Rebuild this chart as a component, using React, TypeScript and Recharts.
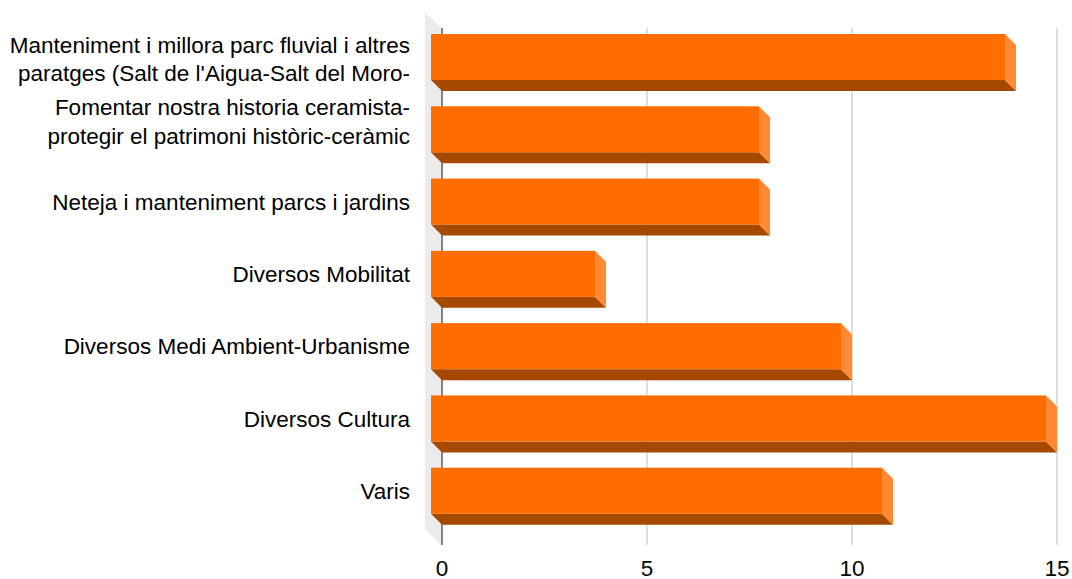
import React from 'react';
import { BarChart, Bar, XAxis, YAxis, CartesianGrid } from 'recharts';

const categories: string[] = [
  "Manteniment i millora parc fluvial i altres\nparatges (Salt de l'Aigua-Salt del Moro-",
  'Fomentar nostra historia ceramista-\nprotegir el patrimoni històric-ceràmic',
  'Neteja i manteniment parcs i jardins',
  'Diversos Mobilitat',
  'Diversos Medi Ambient-Urbanisme',
  'Diversos Cultura',
  'Varis',
];
const values: number[] = [14, 8, 8, 4, 10, 15, 11];
const xTicks: number[] = [0, 5, 10, 15];

const data = categories.map((name, i) => ({ name, value: values[i] }));

const W = 1072;
const H = 579;
const MARGIN = { top: 32, right: 15, bottom: 0, left: 0 };
const YAXIS_W = 442;
const XAXIS_H = 41;
const PLOT_LEFT = MARGIN.left + YAXIS_W;
const DEPTH = 11;
const FONT = '"Liberation Sans", Arial, sans-serif';
const FS = 22.5;

const FRONT = '#ff6d00';
const SIDE = '#ff8a33';
const BOTTOM = '#a64900';

const Bar3D = (props: any) => {
  const { x, y, width, height } = props;
  if (width == null || height == null) return null;
  const fx = x - DEPTH;
  const fy = y - DEPTH;
  return (
    <g>
      <polygon
        points={`${fx},${fy + height} ${fx + width},${fy + height} ${x + width},${y + height} ${x},${y + height}`}
        fill={BOTTOM}
      />
      <polygon
        points={`${fx + width},${fy} ${x + width},${y} ${x + width},${y + height} ${fx + width},${fy + height}`}
        fill={SIDE}
      />
      <rect x={fx} y={fy} width={width} height={height} fill={FRONT} />
    </g>
  );
};

const YTick = (props: any) => {
  const { y, payload, index } = props;
  const lines = String(payload.value).split('\n');
  const lineH = 28.3;
  const center = y - DEPTH;
  let shift = 0;
  if (lines.length > 1) shift = index === 0 ? 2 : -8;
  const start = center - ((lines.length - 1) * lineH) / 2 + shift;
  return (
    <g>
      {lines.map((ln, i) => (
        <text
          key={i}
          x={410}
          y={start + i * lineH + FS * 0.358}
          textAnchor="end"
          fontFamily={FONT}
          fontSize={FS}
          fill="#000"
        >
          {ln}
        </text>
      ))}
    </g>
  );
};

const XTick = (props: any) => {
  const { x, payload } = props;
  return (
    <text x={x} y={576} textAnchor="middle" fontFamily={FONT} fontSize={FS} fill="#000">
      {payload.value}
    </text>
  );
};

const GridLine = (props: any) => {
  const { x1, y1, y2 } = props;
  const isZero = Math.abs(x1 - PLOT_LEFT) < 1;
  const top = y1 - 4;
  const bottom = y2 + 7;
  if (isZero) {
    const wx = x1 - 17;
    return (
      <g>
        <polygon
          points={`${wx},${top - 16} ${x1 - 1},${top} ${x1 - 1},${bottom} ${wx},${bottom - 16}`}
          fill="#ebebeb"
        />
        <line x1={x1} y1={top} x2={x1} y2={bottom} stroke="#333333" strokeWidth={1.2} />
      </g>
    );
  }
  return <line x1={x1} y1={top} x2={x1} y2={bottom} stroke="#c8c8c8" strokeWidth={1.2} />;
};

export default function App() {
  return (
    <div style={{ position: 'absolute', left: 0, top: 0, width: W, height: H, background: '#fff' }}>
      <BarChart width={W} height={H} data={data} layout="vertical" margin={MARGIN}>
        <CartesianGrid horizontal={false} vertical={GridLine as any} />
        <XAxis
          type="number"
          domain={[0, 15]}
          ticks={xTicks}
          axisLine={false}
          tickLine={false}
          height={XAXIS_H}
          tick={<XTick />}
          interval={0}
        />
        <YAxis
          type="category"
          dataKey="name"
          width={YAXIS_W}
          axisLine={false}
          tickLine={false}
          tick={<YTick />}
          interval={0}
        />
        <Bar dataKey="value" barSize={46} shape={<Bar3D />} isAnimationActive={false} />
      </BarChart>
    </div>
  );
}
